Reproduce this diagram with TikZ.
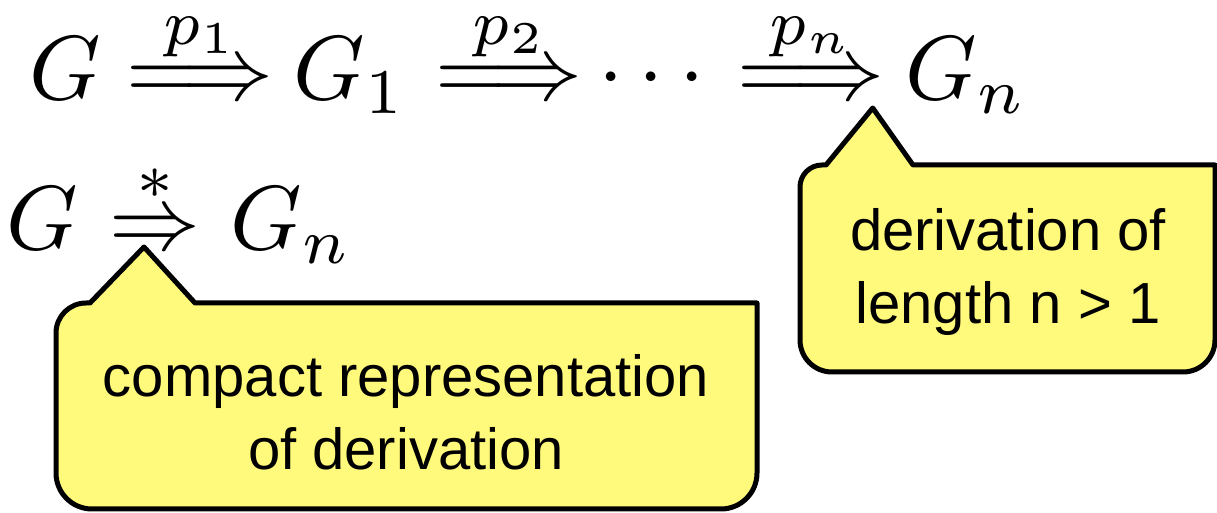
\documentclass[tikz,border=0pt]{standalone}
\usepackage{amsmath}
\usepackage{graphicx}
\usepackage{fontspec}
\newfontfamily\calloutfont{Liberation Sans}
\usetikzlibrary{positioning}
\definecolor{bubbleyellow}{HTML}{FFF97C}
\newcommand{\bigmath}[1]{\scalebox{4.55}{$#1$}}

\begin{document}
\begin{tikzpicture}[x=0.5pt, y=-0.5pt,
  formula/.style={inner sep=0pt, anchor=base, font=\fontsize{10}{12}\selectfont},
  bubble/.style={draw=black, line width=2.5pt, fill=bubbleyellow, line join=round},
  bubbletext/.style={inner sep=0pt, align=center, font=\calloutfont\fontsize{29}{36.5}\selectfont}
]
  \useasboundingbox (0,0) rectangle (1217,513);

  % derivation step by step
  \node[formula] (g0)   at (65,100)  {\bigmath{G}};
  \node[formula] (r1)   at (200,100) {\bigmath{\overset{p_1}{\Longrightarrow}}};
  \node[formula] (g1)   at (350,100) {\bigmath{G_1}};
  \node[formula] (r2)   at (509,100) {\bigmath{\overset{p_2}{\Longrightarrow}}};
  \node[formula] (dots) at (659,100) {\bigmath{\cdots}};
  \node[formula] (r3)   at (811,100) {\bigmath{\overset{p_n}{\Longrightarrow}}};
  \node[formula] (gn)   at (966,100) {\bigmath{G_n}};

  % compact form
  \node[formula] (h0) at (42,250)  {\bigmath{G}};
  \node[formula] (s1) at (155,250) {\bigmath{\overset{*}{\Rightarrow}}};
  \node[formula] (hn) at (291,250) {\bigmath{G_n}};

  \coordinate (tipR) at ([xshift=-6pt,yshift=-4pt]r3.base east);
  \coordinate (tipL) at ([xshift=-5.5pt,yshift=1.5pt]s1.base);

  % callouts
  \draw[bubble] (800,270) [rounded corners=11pt] -- (800,165) [sharp corners]
    -- (826,165) -- (tipR) -- (913,165) -- (1215,165)
    [rounded corners=16pt] -- (1215,372) -- (800,372) -- cycle;
  \draw[bubble] (56,400) [rounded corners=15pt] -- (56,303) [sharp corners]
    -- (90,303) -- (tipL) -- (195,303) -- (757,303)
    [rounded corners=18pt] -- (757,509) -- (56,509) -- cycle;

  \node[bubbletext] (lenTxt)  at (1008,272) {derivation of\\length n > 1};
  \node[bubbletext] (starTxt) at (406,412) {compact representation\\of derivation};
\end{tikzpicture}
\end{document}
